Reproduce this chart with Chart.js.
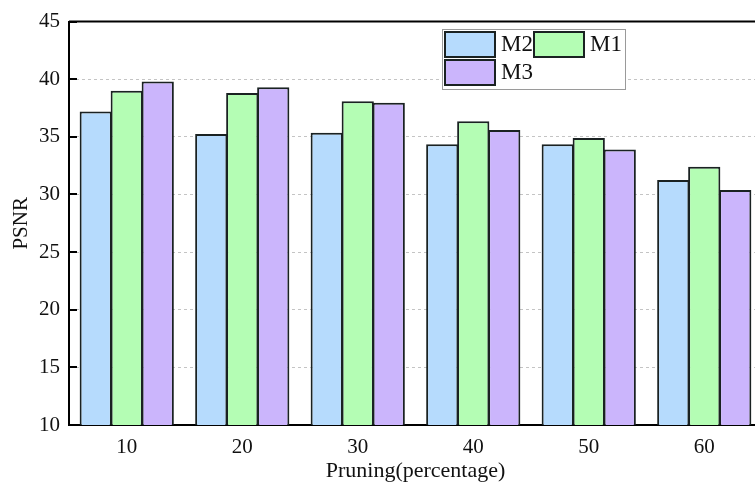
<!DOCTYPE html>
<html>
<head>
<meta charset="utf-8">
<script src="https://cdn.jsdelivr.net/npm/chart.js@4"></script>
<style>
  html, body { margin: 0; padding: 0; background: #fff; overflow: hidden; }
  #wrap { width: 770px; height: 493px; }
</style>
</head>
<body>
<div id="wrap"><canvas id="myChart" width="770" height="493"></canvas></div>
<script>
var categories = ['10', '20', '30', '40', '50', '60']
var m2Values = [37.2, 35.25, 35.35, 34.35, 34.35, 31.25]
var m1Values = [39.0, 38.8, 38.1, 36.35, 34.9, 32.4]
var m3Values = [39.8, 39.3, 37.95, 35.6, 33.9, 30.4]
var yTicks = [10, 15, 20, 25, 30, 35, 40, 45]

var serif = "'Liberation Serif', 'Times New Roman', serif"
var colors = { M2: '#b6dbfd', M1: '#b4fdb4', M3: '#cbb5fc' }
var edge = '#1a2222'

// frame, inward y ticks and the boxed legend
var framePlugin = {
  id: 'frame',
  afterDraw: function(chart){
    var c = chart.ctx, a = chart.chartArea, y = chart.scales.y
    c.save()
    c.strokeStyle = '#000'
    c.lineWidth = 2
    c.beginPath()
    c.moveTo(a.left, a.top); c.lineTo(a.right, a.top); c.lineTo(a.right, a.bottom)
    c.stroke()
    c.lineWidth = 2
    yTicks.forEach(function(v){
      var py = Math.round(y.getPixelForValue(v))
      c.beginPath(); c.moveTo(a.left, py); c.lineTo(a.left + 8, py); c.stroke()
    })

    // legend box
    c.fillStyle = '#fff'
    c.fillRect(442, 29, 183, 60)
    c.strokeStyle = '#9a9a9a'
    c.lineWidth = 1
    c.strokeRect(442.5, 29.5, 183, 60)
    var items = [
      { ds: 0, x: 445, y: 32 },
      { ds: 1, x: 534, y: 32 },
      { ds: 2, x: 445, y: 60 }
    ]
    c.font = '23px ' + serif
    c.textBaseline = 'middle'
    items.forEach(function(it){
      var ds = chart.data.datasets[it.ds]
      c.fillStyle = ds.backgroundColor
      c.fillRect(it.x, it.y, 50, 25)
      c.strokeStyle = edge
      c.lineWidth = 2
      c.strokeRect(it.x, it.y, 50, 25)
      c.fillStyle = '#111'
      c.fillText(ds.label, it.x + 56, it.y + 13)
    })
    c.restore()
  }
}

var ctx = document.querySelector('#myChart').getContext('2d')
var myChart = new Chart(ctx, {
  type: 'bar',
  data: {
    labels: categories,
    datasets: [
      { label: 'M2', data: m2Values, backgroundColor: colors.M2, borderColor: edge, borderWidth: 2, borderSkipped: false },
      { label: 'M1', data: m1Values, backgroundColor: colors.M1, borderColor: edge, borderWidth: 2, borderSkipped: false },
      { label: 'M3', data: m3Values, backgroundColor: colors.M3, borderColor: edge, borderWidth: 2, borderSkipped: false }
    ]
  },
  options: {
    responsive: false,
    animation: false,
    layout: { padding: { top: 15, right: 8, left: 0, bottom: 0 } },
    plugins: { legend: { display: false }, tooltip: { enabled: false } },
    datasets: { bar: { categoryPercentage: 0.805, barPercentage: 1.04 } },
    scales: {
      x: {
        grid: { display: false, drawTicks: false },
        border: { display: true, color: '#000', width: 2 },
        ticks: { color: '#111', padding: 10, font: { family: serif, size: 21 } },
        title: { display: true, text: 'Pruning(percentage)', color: '#111', padding: { bottom: 9 }, font: { family: serif, size: 22 } },
        afterFit: function(s){ s.height = 68 }
      },
      y: {
        min: 10,
        max: 45,
        afterBuildTicks: function(s){ s.ticks = yTicks.map(function(v){ return { value: v } }) },
        grid: {
          drawTicks: false,
          color: function(c){ return (c.tick && (c.tick.value === 10 || c.tick.value === 45)) ? 'rgba(0,0,0,0)' : '#c4c4c4' },
          lineWidth: 1
        },
        border: { display: true, color: '#000', width: 2, dash: [3, 3] },
        ticks: { color: '#111', padding: 9, font: { family: serif, size: 21 } },
        title: { display: true, text: 'PSNR', color: '#111', padding: { top: 9 }, font: { family: serif, size: 21 } },
        afterFit: function(s){ s.width = 69 }
      }
    }
  },
  plugins: [framePlugin]
})
</script>
</body>
</html>
